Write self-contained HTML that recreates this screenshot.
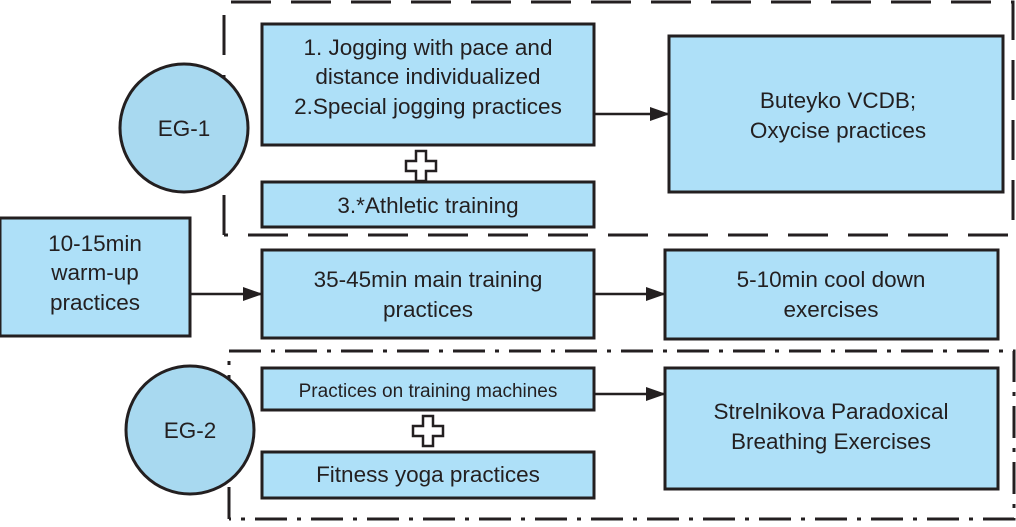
<!DOCTYPE html>
<html><head><meta charset="utf-8"><style>
html,body{margin:0;padding:0;background:#fff;}
svg text{font-family:"Liberation Sans",sans-serif;fill:#231f20;text-anchor:middle;}
</style></head><body>
<svg width="1016" height="522" viewBox="0 0 1016 522" xmlns="http://www.w3.org/2000/svg">
<defs>
<marker id="b" markerWidth="20" markerHeight="14" refX="19" refY="7" orient="auto" markerUnits="userSpaceOnUse"><path d="M0,0 L20,7 L0,14 z" fill="#231f20"/></marker></defs>
<g fill="none" stroke="#231f20" stroke-width="3">
<path d="M224,235 V2 H1013 V235 H224" stroke-dasharray="40,20"/>
<path d="M229,519 V351 H1014 V519 H229" stroke-dasharray="32,10,4,10"/>
</g>
<g fill="#aee0f8" stroke="#231f20" stroke-width="3">
<circle cx="184" cy="128" r="64" fill="#a8d9f0"/>
<circle cx="190" cy="430" r="64" fill="#a8d9f0"/>
<rect x="262" y="24" width="332" height="121"/>
<rect x="262" y="182" width="332" height="45"/>
<rect x="669" y="36" width="334" height="156"/>
<rect x="0" y="218" width="190" height="118"/>
<rect x="262" y="250" width="332" height="88"/>
<rect x="665" y="250" width="333" height="89"/>
<rect x="262" y="368" width="332" height="42"/>
<rect x="262" y="452" width="332" height="46"/>
<rect x="665" y="368" width="333" height="121"/>
</g>
<g fill="#fff" stroke="#231f20" stroke-width="2.5">
<path d="M416,151 h10 v10 h10 v10 h-10 v10 h-10 v-10 h-10 v-10 h10 z"/>
<path d="M423,416 h10 v10 h10 v10 h-10 v10 h-10 v-10 h-10 v-10 h10 z"/>
</g>
<g stroke="#231f20" stroke-width="2.5">
<line x1="594" y1="114" x2="669" y2="114" marker-end="url(#b)"/>
<line x1="190" y1="294" x2="262" y2="294" marker-end="url(#b)"/>
<line x1="594" y1="294" x2="665" y2="294" marker-end="url(#b)"/>
<line x1="594" y1="394" x2="665" y2="394" marker-end="url(#b)"/>
</g>
<g font-size="22.5">
<text x="184" y="136">EG-1</text>
<text x="190" y="438">EG-2</text>
<text x="428" y="55">1. Jogging with pace and</text>
<text x="428" y="84">distance individualized</text>
<text x="428" y="114">2.Special jogging practices</text>
<text x="428" y="213">3.*Athletic training</text>
<text x="838" y="108">Buteyko VCDB;</text>
<text x="838" y="138">Oxycise practices</text>
<text x="95" y="251">10-15min</text>
<text x="95" y="280">warm-up</text>
<text x="95" y="310">practices</text>
<text x="428" y="287">35-45min main training</text>
<text x="428" y="317">practices</text>
<text x="831" y="287">5-10min cool down</text>
<text x="831" y="317">exercises</text>
<text x="428" y="397" font-size="19">Practices on training machines</text>
<text x="428" y="482">Fitness yoga practices</text>
<text x="831" y="419">Strelnikova Paradoxical</text>
<text x="831" y="449">Breathing Exercises</text>
</g>
</svg>
</body></html>
